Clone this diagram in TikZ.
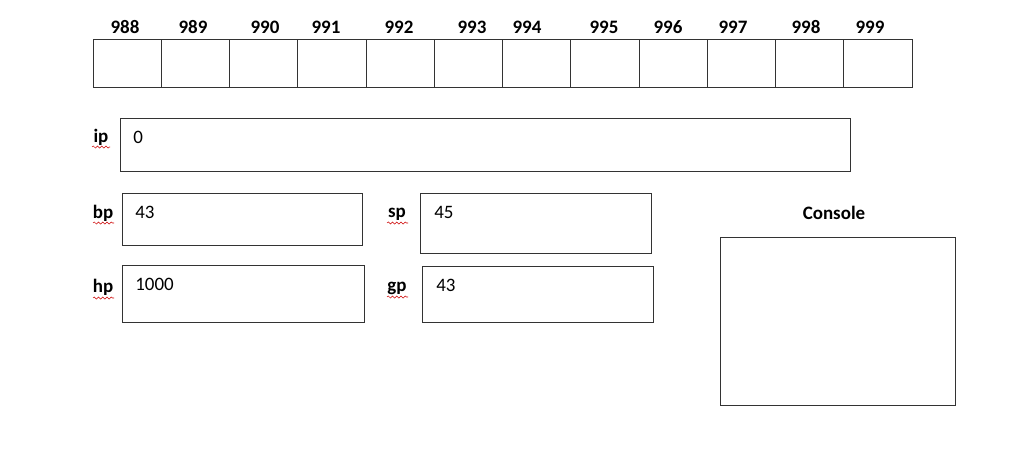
\documentclass[tikz,border=0pt]{standalone}
\usepackage{fontspec}
\setmainfont{Carlito}
\usetikzlibrary{decorations.pathmorphing}
\tikzset{
  cell/.style={draw=black!80, minimum width=1.365cm, minimum height=0.96cm, inner sep=0pt},
  regbox/.style={draw=black!80, inner sep=0pt},
  lbl/.style={font=\fontsize{10.8}{13}\selectfont\bfseries, inner sep=0pt},
  val/.style={font=\fontsize{10.8}{13}\selectfont, inner sep=0pt, anchor=west},
  squiggle/.style={red!80!black, line width=0.3pt, decorate, decoration={snake, amplitude=0.6pt, segment length=2.4pt}}
}
\begin{document}
\begin{tikzpicture}[x=0.02cm, y=-0.02cm]
\useasboundingbox (0,0) rectangle (1024,449);
% memory cells
\foreach \a/\lx [count=\i from 0] in {988/125,989/193,990/265,991/326,992/399,993/472,994/527,995/604,996/668,997/733,998/806,999/870} {
  \node[cell] (m\a) at ({93+68.25*\i+34.125},63) {};
  \node[lbl] (t\a) at (\lx,27) {\a};
}
% registers
\node[regbox, minimum width=14.6cm, minimum height=1.06cm] (ip) at (485,144.5) {};
\node[regbox, minimum width=4.8cm, minimum height=1.04cm] (bp) at (242,219) {};
\node[regbox, minimum width=4.84cm, minimum height=1.14cm] (hp) at (243,293.5) {};
\node[regbox, minimum width=4.62cm, minimum height=1.2cm] (sp) at (535.5,223) {};
\node[regbox, minimum width=4.62cm, minimum height=1.12cm] (gp) at (537.5,294) {};
\node[regbox, minimum width=4.7cm, minimum height=3.36cm] (con) at (837.5,321) {};
\node[lbl] (ipl) at (101,137) {ip};
\node[lbl] (bpl) at (103,213) {bp};
\node[lbl] (hpl) at (103,287) {hp};
\node[lbl] (spl) at (397,214) {sp};
\node[lbl] (gpl) at (397,288) {gp};
\node[lbl] (conl) at (834,213) {Console};
\node[val] (ipv) at (133,137) {0};
\node[val] (bpv) at (135,212) {43};
\node[val] (hpv) at (135,284) {1000};
\node[val] (spv) at (434,212) {45};
\node[val] (gpv) at (436,285) {43};
% spell-check marks
\draw[squiggle] (92,147) -- (110,147);
\draw[squiggle] (93,223) -- (114,223);
\draw[squiggle] (93,298) -- (114,298);
\draw[squiggle] (387,223) -- (408,223);
\draw[squiggle] (387,297) -- (408,297);
\end{tikzpicture}
\end{document}
